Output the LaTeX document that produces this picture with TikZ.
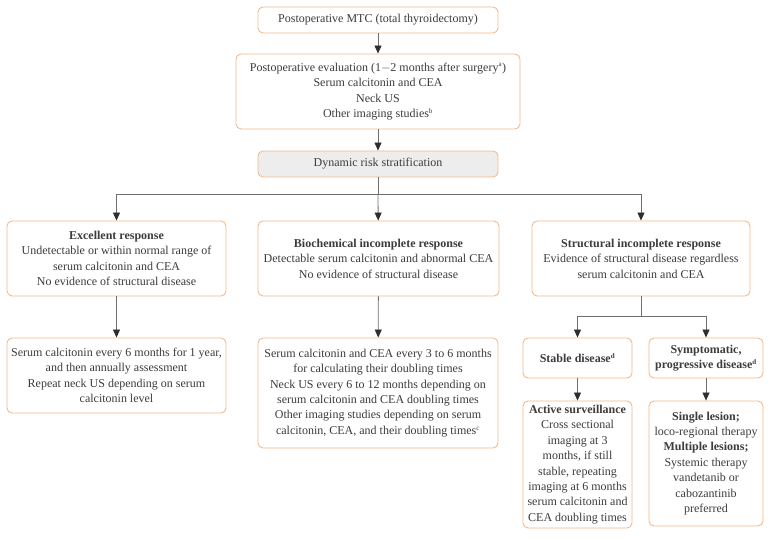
\documentclass[tikz,border=0pt]{standalone}
\usepackage{fontspec}
\setmainfont{Liberation Serif}
\usepackage{xcolor}
\usetikzlibrary{arrows.meta}
\definecolor{boxOrange}{HTML}{F5B98A}
\definecolor{boxGray}{HTML}{EDEDED}
\definecolor{lineGray}{HTML}{6E6E6E}
\definecolor{tipDark}{HTML}{2E2E2E}
\definecolor{textGray}{HTML}{3C3C3C}
\tikzset{
  card/.style={draw=boxOrange, fill=white, line width=0.9pt,
        rounded corners=5pt, align=center, inner sep=2pt,
        text=textGray, font=\fontsize{12}{15.4}\selectfont},
  cardgray/.style={card, fill=boxGray},
  flow/.style={-{Triangle[length=8pt, width=7pt, color=tipDark]},
        line width=0.8pt, draw=lineGray},
  link/.style={line width=0.8pt, draw=lineGray}
}
\newcommand{\fn}[1]{\textsuperscript{\fontsize{7}{7}\selectfont #1}}

\begin{document}
\begin{tikzpicture}[x=1pt, y=-1pt]
\useasboundingbox (0,0) rectangle (770,538);

\node[card, minimum width=240pt, minimum height=26pt] (top) at (378,20)
  {Postoperative MTC (total thyroidectomy)};
\node[card, minimum width=284pt, minimum height=75pt] (eval) at (378,91.5)
  {Postoperative evaluation (1$-$2 months after surgery\fn{a})\\
   Serum calcitonin and CEA\\ Neck US\\ Other imaging studies\fn{b}};
\node[cardgray, minimum width=240pt, minimum height=26pt] (dyn) at (378,164)
  {Dynamic risk stratification};

\node[card, minimum width=219pt, minimum height=75pt] (exc) at (116.5,258.5)
  {\textbf{Excellent response}\\ Undetectable or within normal range of\\
   serum calcitonin and CEA\\ No evidence of structural disease};
\node[card, minimum width=241pt, minimum height=75pt] (bio) at (378.5,258.5)
  {\textbf{Biochemical incomplete response}\\
   Detectable serum calcitonin and abnormal CEA\\ No evidence of structural disease};
\node[card, minimum width=218pt, minimum height=75pt] (str) at (641,258.5)
  {\textbf{Structural incomplete response}\\
   Evidence of structural disease regardless\\ serum calcitonin and CEA};

\node[card, minimum width=219pt, minimum height=75pt] (excf) at (116.5,375.5)
  {Serum calcitonin every 6 months for 1 year,\\ and then annually assessment\\
   Repeat neck US depending on serum\\ calcitonin level};
\node[card, minimum width=240pt, minimum height=110pt] (biof) at (378,393)
  {Serum calcitonin and CEA every 3 to 6 months\\ for calculating their doubling times\\
   Neck US every 6 to 12 months depending on\\ serum calcitonin and CEA doubling times\\
   Other imaging studies depending on serum\\ calcitonin, CEA, and their doubling times\fn{c}};

\node[card, minimum width=109pt, minimum height=40pt] (stab) at (577.5,358)
  {\textbf{Stable disease\fn{d}}};
\node[card, minimum width=114pt, minimum height=40pt] (symp) at (706,358)
  {\textbf{Symptomatic,}\\ \textbf{progressive disease\fn{d}}};
\node[card, minimum width=109pt, minimum height=127pt] (act) at (577.5,464.5)
  {\textbf{Active surveillance}\\ Cross sectional\\ imaging at 3\\ months, if still\\
   stable, repeating\\ imaging at 6 months\\ serum calcitonin and\\ CEA doubling times};
\node[card, minimum width=114pt, minimum height=125pt] (sing) at (706,463.5)
  {\textbf{Single lesion;}\\ loco-regional therapy\\ \textbf{Multiple lesions;}\\
   Systemic therapy\\ vandetanib or\\ cabozantinib\\ preferred};

% connectors
\coordinate (split) at (378,194);
\coordinate (ssplit) at (641,316);
\draw[flow] (top) -- (eval);
\draw[flow] (eval) -- (dyn);
\draw[link] (dyn) -- (split);
\draw[flow] (split) -| (exc);
\draw[flow] (split) -- (bio);
\draw[flow] (split) -| (str);
\draw[flow] (exc) -- (excf);
\draw[flow] (bio) -- (biof);
\draw[link] (str) -- (ssplit);
\draw[flow] (ssplit) -| (stab);
\draw[flow] (ssplit) -| (symp);
\draw[flow] (stab) -- (act);
\draw[flow] (symp) -- (sing);
\end{tikzpicture}
\end{document}
